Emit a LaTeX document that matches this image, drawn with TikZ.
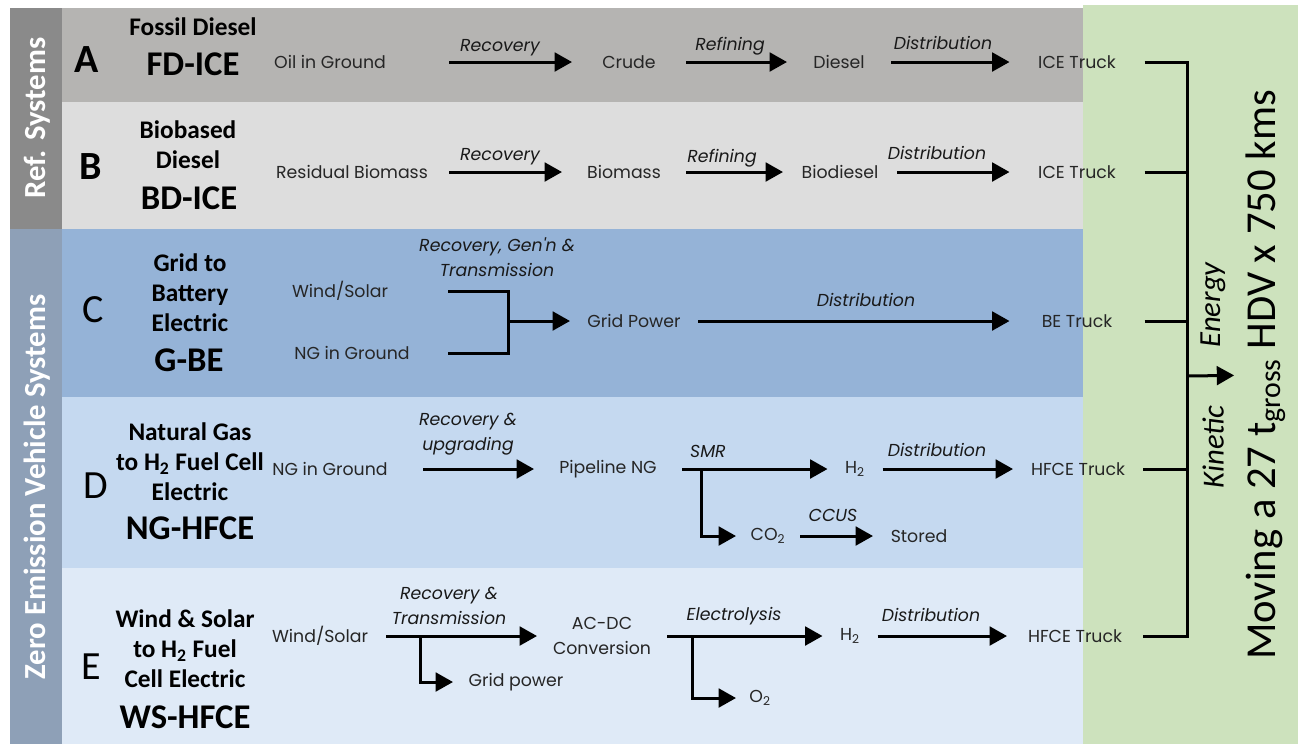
\documentclass[tikz,border=0pt]{standalone}
\usepackage{fontspec}
\setmainfont{Carlito}
\newfontfamily\gothic{Poppins}
\usetikzlibrary{arrows.meta}

\definecolor{bandref}{RGB}{138,138,138}
\definecolor{bandzev}{RGB}{142,160,183}
\definecolor{rowA}{RGB}{181,180,178}
\definecolor{rowB}{RGB}{221,221,221}
\definecolor{rowC}{RGB}{149,179,215}
\definecolor{rowD}{RGB}{197,217,240}
\definecolor{rowE}{RGB}{223,234,247}
\definecolor{panel}{RGB}{205,226,189}

\tikzset{
  txt/.style={font=\gothic\fontsize{13}{18.75}\selectfont, text=black!85, inner sep=0pt, outer sep=0pt},
  stage/.style={txt, minimum width=#1*0.75pt},
  proc/.style={font=\gothic\itshape\fontsize{13}{18.75}\selectfont, text=black!90, inner sep=0pt, align=center},
  letter/.style={font=\fontsize{30}{30}\selectfont, inner sep=0pt},
  descr/.style={font=\bfseries\fontsize{19}{22.5}\selectfont, align=center, inner sep=0pt},
  code/.style={font=\bfseries\fontsize{26}{26}\selectfont, inner sep=0pt},
  side/.style={font=\bfseries\fontsize{23}{23}\selectfont, text=white, rotate=90, inner sep=0pt},
  kin/.style={font=\itshape\fontsize{23}{23}\selectfont, rotate=90, inner sep=0pt},
  flow/.style={->, line width=2.25pt},
  wire/.style={line width=2.25pt},
}

\begin{document}
\begin{tikzpicture}[>={Triangle[length=13pt,width=14pt]}, x=0.75pt, y=-0.75pt]
  \useasboundingbox (0,0) rectangle (1298,744);
  \fill[white] (0,0) rectangle (1298,744);
  \fill[bandref] (10,8) rectangle (62,229);
  \fill[bandzev] (10,229) rectangle (62,744);
  \fill[rowA] (62,8) rectangle (1083,102);
  \fill[rowB] (62,102) rectangle (1083,229);
  \fill[rowC] (62,229) rectangle (1083,397);
  \fill[rowD] (62,397) rectangle (1083,568);
  \fill[rowE] (62,568) rectangle (1083,744);
  \fill[panel] (1083,5) rectangle (1298,744);

  \node[side] (refsys) at (37,118) {Ref. Systems};
  \node[side] (zevsys) at (37,487) {Zero Emission Vehicle Systems};

  % system names
  \node[letter] (letA) at (87,60) {\bfseries A};
  \node[letter] (letB) at (91,167) {\bfseries B};
  \node[letter] (letC) at (93,310) {C};
  \node[letter] (letD) at (96,486) {D};
  \node[letter] (letE) at (91,667) {E};
  \node[descr] (descA) at (193,27) {Fossil Diesel};
  \node[descr] (descB) at (188,145) {Biobased\\Diesel};
  \node[descr] (descC) at (190,293) {Grid to\\Battery\\Electric};
  \node[descr] (descD) at (190,462) {Natural Gas\\to H\textsubscript{2} Fuel Cell\\Electric};
  \node[descr] (descE) at (185,649) {Wind \& Solar\\to H\textsubscript{2} Fuel\\Cell Electric};
  \node[code] (codeA) at (193,64) {FD-ICE};
  \node[code] (codeB) at (189,198) {BD-ICE};
  \node[code] (codeC) at (189,360) {G-BE};
  \node[code] (codeD) at (190,528) {NG-HFCE};
  \node[code] (codeE) at (185,717) {WS-HFCE};

  % A
  \node[stage=238] (oilA) at (330,62) {Oil in Ground};
  \node[stage=114] (crudeA) at (629,62) {Crude};
  \node[stage=104] (dieselA) at (839,62) {Diesel};
  \node[stage=135] (truckA) at (1077,62) {ICE Truck};
  \draw[flow] (oilA) -- (crudeA);
  \draw[flow] (crudeA) -- (dieselA);
  \draw[flow] (dieselA) -- (truckA);
  \node[proc] (recA) at (500,48) {Recovery};
  \node[proc] (refA) at (730,46) {Refining};
  \node[proc] (disA) at (943,43) {Distribution};

  % B
  \node[stage=194] (resB) at (352,172) {Residual Biomass};
  \node[stage=124] (bioB) at (624,172) {Biomass};
  \node[stage=114] (biodB) at (840,172) {Biodiesel};
  \node[stage=135] (truckB) at (1077,172) {ICE Truck};
  \draw[flow] (resB) -- (bioB);
  \draw[flow] (bioB) -- (biodB);
  \draw[flow] (biodB) -- (truckB);
  \node[proc] (recB) at (500,157) {Recovery};
  \node[proc] (refB) at (722,158) {Refining};
  \node[proc] (disB) at (937,153) {Distribution};

  % C
  \node[stage=216] (windC) at (340,291) {Wind/Solar};
  \node[stage=192] (ngC) at (352,353) {NG in Ground};
  \coordinate (joinC) at (508,321);
  \node[stage=128] (gridC) at (634,321) {Grid Power};
  \node[stage=135] (truckC) at (1077,321) {BE Truck};
  \draw[wire] (windC) -| (joinC) |- (ngC);
  \draw[flow] (joinC) -- (gridC);
  \draw[flow] (gridC) -- (truckC);
  \node[proc] (recC) at (497,257) {Recovery, Gen'n \&\\Transmission};
  \node[proc] (disC) at (866,300) {Distribution};

  % D
  \node[stage=186] (ngD) at (330,469) {NG in Ground};
  \node[stage=148] (pipeD) at (608,469) {Pipeline NG};
  \node[stage=55] (h2D) at (855,469) {H\textsubscript{2}};
  \node[stage=130] (truckD) at (1078,469) {HFCE Truck};
  \node[stage=64] (co2D) at (768,536) {CO\textsubscript{2}};
  \node[stage=92] (storedD) at (919,536) {Stored};
  \coordinate (smrD) at (701,469);
  \draw[flow] (ngD) -- (pipeD);
  \draw[flow] (pipeD) -- (h2D);
  \draw[flow] (smrD) |- (co2D);
  \draw[flow] (co2D) -- (storedD);
  \draw[flow] (h2D) -- (truckD);
  \node[proc] (recD) at (468,434) {Recovery \&\\upgrading};
  \node[proc] (smrlD) at (708,451) {SMR};
  \node[proc] (ccusD) at (833,515) {CCUS};
  \node[proc] (disD) at (937,450) {Distribution};

  % E
  \node[stage=132] (windE) at (320,636) {Wind/Solar};
  \node[stage=130, align=center] (acdcE) at (602,636) {AC-DC\\Conversion};
  \node[stage=55] (h2E) at (850,636) {H\textsubscript{2}};
  \node[stage=136] (truckE) at (1075,636) {HFCE Truck};
  \node[stage=126] (gridE) at (516,682) {Grid power};
  \node[stage=48] (o2E) at (760,698) {O\textsubscript{2}};
  \coordinate (splitE1) at (420,636);
  \coordinate (splitE2) at (692,636);
  \draw[flow] (windE) -- (acdcE);
  \draw[flow] (splitE1) |- (gridE);
  \draw[flow] (acdcE) -- (h2E);
  \draw[flow] (splitE2) |- (o2E);
  \draw[flow] (h2E) -- (truckE);
  \node[proc] (recE) at (449,606) {Recovery \&\\Transmission};
  \node[proc] (elyE) at (734,616) {Electrolysis};
  \node[proc] (disE) at (931,615) {Distribution};

  % output
  \coordinate (busE) at (1187,636);
  \coordinate (busOut) at (1187,376);
  \node[font=\fontsize{32}{32}\selectfont, rotate=90, inner sep=0pt, outer sep=9pt] (moving) at (1266,375)
    {Moving a 27 t\textsubscript{gross} HDV x 750 kms};
  \node[kin] (kinetic) at (1213,447) {Kinetic};
  \node[kin] (energy) at (1213,305) {Energy};
  \draw[wire] (truckA) -| (busE) -- (truckE);
  \draw[wire] (truckB) -- (truckB -| busE);
  \draw[wire] (truckC) -- (truckC -| busE);
  \draw[wire] (truckD) -- (truckD -| busE);
  \draw[flow] (busOut) -- (moving);
\end{tikzpicture}
\end{document}
